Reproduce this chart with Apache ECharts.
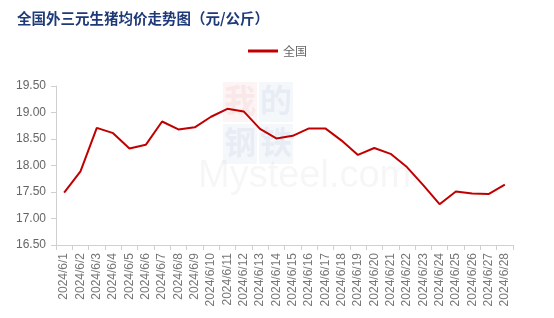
<!DOCTYPE html>
<html>
<head>
<meta charset="utf-8">
<script src="https://cdn.jsdelivr.net/npm/echarts@6/dist/echarts.min.js"></script>
<style>html,body{margin:0;padding:0;background:#fff}#c{width:554px;height:318px}</style>
</head>
<body>
<div id="c"></div>
<script>
var categories = ['2024/6/1','2024/6/2','2024/6/3','2024/6/4','2024/6/5','2024/6/6','2024/6/7','2024/6/8','2024/6/9','2024/6/10','2024/6/11','2024/6/12','2024/6/13','2024/6/14','2024/6/15','2024/6/16','2024/6/17','2024/6/18','2024/6/19','2024/6/20','2024/6/21','2024/6/22','2024/6/23','2024/6/24','2024/6/25','2024/6/26','2024/6/27','2024/6/28'];
var nationalPrice = [17.49,17.89,18.71,18.61,18.32,18.39,18.83,18.68,18.72,18.92,19.07,19.02,18.69,18.51,18.56,18.70,18.70,18.47,18.20,18.33,18.22,17.97,17.63,17.27,17.51,17.47,17.46,17.64];
var seriesName = '全国';
var titleText = '全国外三元生猪均价走势图（元/公斤）';

var chart = echarts.init(document.getElementById('c'), null, {renderer: 'canvas'});
chart.setOption({
  animation: false,
  backgroundColor: '#fff',
  title: {
    text: titleText,
    left: 12, top: 6,
    textStyle: {color: '#1f3a78', fontSize: 14.5, fontWeight: 'bold', fontFamily: 'Noto Sans CJK SC'}
  },
  legend: {
    data: [seriesName],
    top: 40, left: 243,
    itemWidth: 30, itemHeight: 3, itemGap: 4,
    icon: 'rect',
    textStyle: {color: '#666', fontSize: 12, fontFamily: 'Noto Sans CJK SC'}
  },
  graphic: [
    {type: 'rect', shape: {x: 223, y: 82, width: 34, height: 40}, style: {fill: 'rgba(230,120,120,0.07)'}, silent: true, z: -1},
    {type: 'rect', shape: {x: 259, y: 82, width: 34, height: 40}, style: {fill: 'rgba(120,150,200,0.07)'}, silent: true, z: -1},
    {type: 'rect', shape: {x: 223, y: 124, width: 34, height: 40}, style: {fill: 'rgba(120,150,200,0.07)'}, silent: true, z: -1},
    {type: 'rect', shape: {x: 259, y: 124, width: 34, height: 40}, style: {fill: 'rgba(120,150,200,0.07)'}, silent: true, z: -1},
    {type: 'text', left: 224, top: 84, style: {text: '我', fill: 'rgba(230,120,120,0.10)', font: 'bold 32px "Noto Sans CJK SC"'}, silent: true, z: -1},
    {type: 'text', left: 260, top: 84, style: {text: '的', fill: 'rgba(120,150,200,0.10)', font: 'bold 32px "Noto Sans CJK SC"'}, silent: true, z: -1},
    {type: 'text', left: 224, top: 126, style: {text: '钢', fill: 'rgba(120,150,200,0.10)', font: 'bold 32px "Noto Sans CJK SC"'}, silent: true, z: -1},
    {type: 'text', left: 260, top: 126, style: {text: '铁', fill: 'rgba(120,150,200,0.10)', font: 'bold 32px "Noto Sans CJK SC"'}, silent: true, z: -1},
    {type: 'text', left: 198, top: 158, style: {text: 'Mysteel.com', fill: 'rgba(0,0,0,0.035)', font: '38px "Liberation Sans Narrow", "Liberation Sans"'}, silent: true, z: -1}
  ],
  grid: {left: 56, right: 41, top: 86, bottom: 73, containLabel: false},
  xAxis: {
    type: 'category',
    data: categories,
    boundaryGap: true,
    axisLine: {lineStyle: {color: '#d0d0d0'}},
    axisTick: {show: true, alignWithLabel: false, lineStyle: {color: '#d0d0d0'}},
    axisLabel: {rotate: 90, color: '#777', fontSize: 12, fontFamily: 'Liberation Sans', margin: 8, interval: 0}
  },
  yAxis: {
    type: 'value',
    min: 16.5, max: 19.5, interval: 0.5,
    axisLine: {show: true, lineStyle: {color: '#d0d0d0'}},
    axisTick: {show: true, length: 5, lineStyle: {color: '#d0d0d0'}},
    splitLine: {show: false},
    axisLabel: {color: '#666', fontSize: 12, fontFamily: 'Liberation Sans', margin: 10,
      formatter: function (v) { return v.toFixed(2); }}
  },
  series: [{
    name: seriesName,
    type: 'line',
    data: nationalPrice,
    symbol: 'none',
    lineStyle: {color: '#c00000', width: 2},
    itemStyle: {color: '#c00000'}
  }]
});
</script>
</body>
</html>
